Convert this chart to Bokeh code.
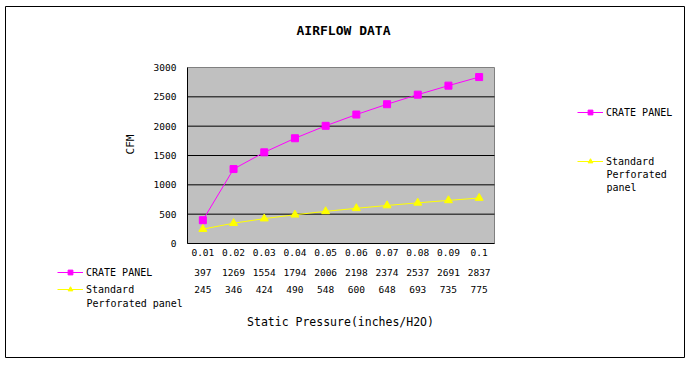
from math import pi
from bokeh.plotting import figure
from bokeh.models import Range1d, Legend, LegendItem, Label
from bokeh.core.properties import value
from bokeh.embed import file_html
from bokeh.resources import INLINE

categories = ["0.01", "0.02", "0.03", "0.04", "0.05", "0.06", "0.07", "0.08", "0.09", "0.1"]
crate_panel = [397, 1269, 1554, 1794, 2006, 2198, 2374, 2537, 2691, 2837]
standard_panel = [245, 346, 424, 490, 548, 600, 648, 693, 735, 775]
y_ticks = [0, 500, 1000, 1500, 2000, 2500, 3000]
series_names = ["CRATE PANEL", "Standard"]

FONT = "DejaVu Sans Mono"
W, H = 686, 360
# chart border (frame) in page pixels
FL, FT, FR, FB = 5, 6, 684, 357
# plot area in page pixels
PL, PR, PT, PB = 187, 494, 67, 243

n = len(categories)
xs = list(range(1, n + 1))
x0, x1 = 0.5, n + 0.5
y0, y1 = y_ticks[0], y_ticks[-1]
kx = (PR - PL) / (x1 - x0)
ky = (PB - PT) / (y1 - y0)
x_range = Range1d(x0 - (PL - FL) / kx, x1 + (FR - PR) / kx)
y_range = Range1d(y0 - (FB - PB) / ky, y1 + (PT - FT) / ky)

p = figure(width=W, height=H, output_backend="svg", toolbar_location=None,
           x_range=x_range, y_range=y_range, x_axis_location=None, y_axis_location=None,
           min_border_left=FL, min_border_right=W - FR, min_border_top=FT, min_border_bottom=H - FB)
p.grid.visible = False
p.background_fill_color = "white"
p.border_fill_color = "white"
p.outline_line_color = "black"
p.outline_line_width = 1

# plot area
p.quad(left=[x0], right=[x1], bottom=[y0], top=[y1], fill_color="#C0C0C0",
       line_color="#808080", line_width=1)
grid_vals = y_ticks[1:-1]
p.segment(x0=[x0] * len(grid_vals), x1=[x1] * len(grid_vals), y0=grid_vals, y1=grid_vals,
          line_color="black", line_width=1)
# axis lines
p.segment(x0=[x0, x0], x1=[x0, x1], y0=[y0, y0], y1=[y1, y0], line_color="black", line_width=1)

# y tick labels
p.text(x=[x0] * len(y_ticks), y=y_ticks, text=[str(t) for t in y_ticks], x_offset=-11,
       text_align="right", text_baseline="middle", text_font=value(FONT),
       text_font_size="9.5px", text_color="black")

# category labels + data table rows
def row(texts, off):
    p.text(x=xs, y=[y0] * n, text=texts, y_offset=off, text_align="center",
           text_baseline="middle", text_font=value(FONT), text_font_size="9.5px",
           text_color="black")

row(categories, 9)
row([str(v) for v in crate_panel], 29)
row([str(v) for v in standard_panel], 46)

# series
r1 = p.line(xs, crate_panel, line_color="#FF00FF", line_width=1)
r1m = p.scatter(xs, crate_panel, marker="square", size=7, fill_color="#FF00FF", line_color="#FF00FF")
r2 = p.line(xs, standard_panel, line_color="#FFFF00", line_width=1)
r2m = p.scatter(xs, standard_panel, marker="triangle", size=8, fill_color="#FFFF00", line_color="#FFFF00")

def make_legend(label, renderers, px, py):
    # px, py: page pixels of the left end / vertical centre of the legend glyph
    lg = Legend(items=[LegendItem(label=label, renderers=renderers)],
                location=(px - FL, FB - (py + 6)),
                orientation="vertical", padding=0, margin=0, spacing=0,
                glyph_width=26, glyph_height=12, label_height=12, label_standoff=3,
                border_line_color=None, background_fill_alpha=0,
                label_text_font=FONT, label_text_font_size="10px", label_text_color="black")
    p.add_layout(lg, "center")
    return lg

make_legend(series_names[0], [r1, r1m], 577, 112)
make_legend(series_names[1], [r2, r2m], 577, 161)
make_legend(series_names[0], [r1, r1m], 57, 272)
make_legend(series_names[1], [r2, r2m], 57, 289)

def add_text(txt, px, py, size="10px", bold=False, align="left", angle=0):
    p.add_layout(Label(x=px - FL, y=FB - py, x_units="screen", y_units="screen", text=txt,
                       text_font=FONT, text_font_size=size, text_color="black",
                       text_font_style="bold" if bold else "normal",
                       text_align=align, text_baseline="middle", angle=angle))

add_text("Perforated", 606, 174)
add_text("panel", 606, 187)
add_text("Perforated panel", 86, 303)
add_text("AIRFLOW DATA", 343, 30, size="13px", bold=True, align="center")
add_text("Static Pressure(inches/H2O)", 340, 321, size="11.5px", align="center")
add_text("CFM", 130, 144, size="11px", align="center", angle=pi / 2)

open("out.html", "w").write(file_html(p, INLINE))
